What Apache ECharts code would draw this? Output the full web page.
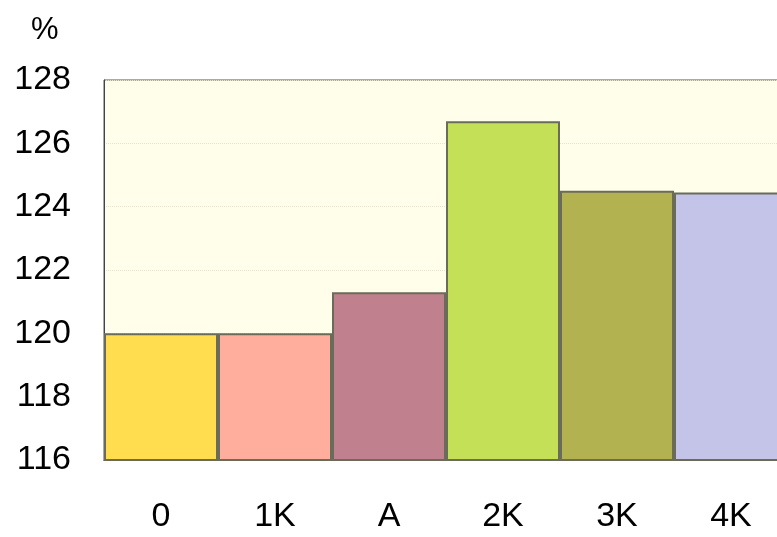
<!DOCTYPE html>
<html>
<head>
<meta charset="utf-8">
<script src="https://cdn.jsdelivr.net/npm/echarts@6/dist/echarts.min.js"></script>
<style>
  html, body { margin: 0; padding: 0; background: #fff; overflow: hidden; }
  /* chart is wider than the window: the last bar runs off the right edge as in the original */
  #chart { width: 790px; height: 537px; }
</style>
</head>
<body>
<div id="chart"></div>
<script>
var categories = ['0', '1K', 'A', '2K', '3K', '4K'];
var values = [120.0, 120.0, 121.3, 126.7, 124.5, 124.45];
var barColors = ['#FFDD4F', '#FFAE9E', '#C0808E', '#C4E057', '#B3B251', '#C4C4E8'];

var myChart = echarts.init(document.getElementById('chart'));

var barData = values.map(function (v, i) {
	return {
		value: v,
		itemStyle: { color: barColors[i] }
	};
});

var option = {
	animation: false,
	title: {
		text: '%',
		left: 26,
		top: 10,
		textStyle: {
			fontFamily: 'Liberation Sans',
			fontSize: 31,
			fontWeight: 'normal',
			color: '#000'
		}
	},
	grid: {
		left: 104,
		right: 2,
		top: 80,
		bottom: 77,
		show: true,
		backgroundColor: '#FFFEEB',
		borderColor: '#555',
		borderWidth: 1
	},
	xAxis: {
		type: 'category',
		data: categories,
		axisLine: { lineStyle: { color: '#000', width: 1 } },
		axisTick: { show: false },
		axisLabel: {
			margin: 40,
			fontFamily: 'Liberation Sans',
			fontSize: 34,
			color: '#000'
		}
	},
	yAxis: {
		type: 'value',
		min: 116,
		max: 128,
		interval: 2,
		axisLine: { show: true, lineStyle: { color: '#444', width: 1 } },
		axisTick: { show: false },
		axisLabel: {
			margin: 33,
			fontFamily: 'Liberation Sans',
			fontSize: 34,
			color: '#000'
		},
		splitLine: {
			show: true,
			lineStyle: { color: '#E6E2CC', type: 'dotted', width: 1 }
		}
	},
	series: [
		{
			type: 'bar',
			data: barData,
			barCategoryGap: '0%',
			itemStyle: {
				borderColor: '#6B6B5A',
				borderWidth: 2
			}
		}
	]
};

myChart.setOption(option);
</script>
</body>
</html>
